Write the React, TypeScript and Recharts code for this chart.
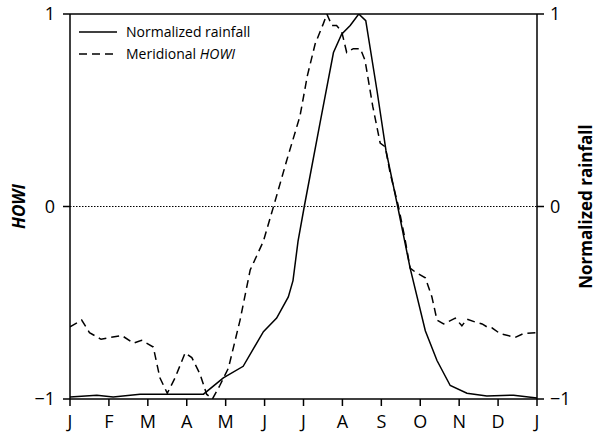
import React from 'react';
import { LineChart, Line, XAxis, YAxis, ReferenceLine, Legend } from 'recharts';

const monthTicks = [0, 1, 2, 3, 4, 5, 6, 7, 8, 9, 10, 11, 12];
const monthLabels = ['J', 'F', 'M', 'A', 'M', 'J', 'J', 'A', 'S', 'O', 'N', 'D', 'J'];
const yTicks = [-1, 0, 1];

const rainfallMonths = [0, 0.69, 1.11, 1.8, 3.43, 3.94, 4.45, 4.97, 5.31, 5.61, 5.73, 5.86, 6.02, 6.43, 6.77, 6.98, 7.2, 7.42, 7.6, 7.89, 8.12, 8.42, 8.74, 9.13, 9.43, 9.77, 10.2, 10.71, 11.4, 12];
const rainfallValues = [-0.99, -0.98, -0.99, -0.975, -0.975, -0.89, -0.83, -0.65, -0.58, -0.47, -0.385, -0.18, 0.0, 0.44, 0.8, 0.895, 0.94, 1.0, 0.965, 0.6, 0.29, 0.0, -0.32, -0.645, -0.8, -0.93, -0.97, -0.985, -0.98, -0.995];

const howiMonths = [0, 0.3, 0.5, 0.8, 1.03, 1.33, 1.63, 1.84, 2.14, 2.31, 2.5, 2.7, 2.96, 3.13, 3.34, 3.51, 3.66, 3.85, 4.07, 4.37, 4.63, 4.97, 5.23, 5.57, 5.91, 6.1, 6.3, 6.51, 6.6, 6.73, 6.85, 6.98, 7.11, 7.28, 7.46, 7.58, 7.78, 7.97, 8.1, 8.23, 8.44, 8.6, 8.74, 8.87, 9.13, 9.3, 9.43, 9.6, 9.9, 10.07, 10.2, 10.41, 10.59, 10.71, 10.84, 11.05, 11.44, 11.65, 12];
const howiValues = [-0.625, -0.59, -0.655, -0.69, -0.68, -0.67, -0.71, -0.695, -0.73, -0.89, -0.97, -0.89, -0.76, -0.785, -0.87, -0.975, -1.0, -0.93, -0.84, -0.59, -0.33, -0.18, 0.0, 0.24, 0.47, 0.68, 0.845, 0.95, 1.0, 0.94, 0.94, 0.91, 0.8, 0.82, 0.82, 0.76, 0.52, 0.33, 0.31, 0.17, 0.0, -0.16, -0.32, -0.34, -0.37, -0.47, -0.59, -0.61, -0.58, -0.62, -0.585, -0.6, -0.61, -0.625, -0.63, -0.66, -0.68, -0.66, -0.655];

const rainfallData = rainfallMonths.map((m, i) => ({ m, v: rainfallValues[i] }));
const howiData = howiMonths.map((m, i) => ({ m, v: howiValues[i] }));

const FONT = '"Open Sans", sans-serif';

const fmtY = (v: number) => (v < 0 ? '\u2212' + Math.abs(v) : String(v));
const fmtX = (v: number) => monthLabels[v] ?? '';

const LeftLabel = (props: any) => {
  const vb = props.viewBox || {};
  const cx = vb.x + 18;
  const cy = vb.y + vb.height / 2;
  return (
    <text x={cx} y={cy} transform={`rotate(-90, ${cx}, ${cy})`} textAnchor="middle" dominantBaseline="central"
      fontFamily={FONT} fontSize={17} fontWeight="bold" fontStyle="italic" fill="#000">HOWI</text>
  );
};

const RightLabel = (props: any) => {
  const vb = props.viewBox || {};
  const cx = vb.x + 48;
  const cy = vb.y + vb.height / 2;
  return (
    <text x={cx} y={cy} transform={`rotate(-90, ${cx}, ${cy})`} textAnchor="middle" dominantBaseline="central"
      fontFamily={FONT} fontSize={17} fontWeight="bold" fill="#000">Normalized rainfall</text>
  );
};

const LegendContent = () => (
  <div style={{ fontFamily: FONT, fontSize: 14, color: '#000', lineHeight: '22px' }}>
    <div style={{ display: 'flex', alignItems: 'center' }}>
      <svg width={40} height={22}><line x1={1} y1={11} x2={39} y2={11} stroke="#000" strokeWidth={1.6} /></svg>
      <span style={{ marginLeft: 8 }}>Normalized rainfall</span>
    </div>
    <div style={{ display: 'flex', alignItems: 'center' }}>
      <svg width={40} height={22}><line x1={1} y1={11} x2={39} y2={11} stroke="#000" strokeWidth={1.6} strokeDasharray="8 5" /></svg>
      <span style={{ marginLeft: 8 }}>Meridional <i>HOWI</i></span>
    </div>
  </div>
);

export default function App() {
  return (
    <div style={{ position: 'absolute', left: 0, top: 0, width: 601, height: 435, background: '#fff' }}>
      <LineChart width={601} height={435} margin={{ top: 14, right: 0, bottom: 0, left: 0 }}>
        <XAxis dataKey="m" type="number" domain={[0, 12]} ticks={monthTicks} tickFormatter={fmtX}
          height={36} stroke="#000" strokeWidth={1.5} tickSize={7} tickMargin={9}
          tick={{ fill: '#000', fontSize: 18, fontFamily: FONT }} allowDataOverflow />
        <YAxis yAxisId="left" domain={[-1, 1]} ticks={yTicks} tickFormatter={fmtY} width={70}
          stroke="#000" strokeWidth={1.5} tickSize={7} tickMargin={8}
          tick={{ fill: '#000', fontSize: 18, fontFamily: FONT }} label={<LeftLabel />} allowDataOverflow />
        <YAxis yAxisId="right" orientation="right" domain={[-1, 1]} ticks={yTicks} tickFormatter={fmtY} width={64}
          stroke="#000" strokeWidth={1.5} tickSize={7} tickMargin={6}
          tick={{ fill: '#000', fontSize: 18, fontFamily: FONT }} label={<RightLabel />} allowDataOverflow />
        <ReferenceLine yAxisId="left" y={1} stroke="#000" strokeWidth={1.5} />
        <ReferenceLine yAxisId="left" y={0} stroke="#000" strokeWidth={1} strokeDasharray="1.5 1.5" />
        <Line yAxisId="left" data={howiData} dataKey="v" type="linear" stroke="#000" strokeWidth={1.5}
          strokeDasharray="8 5" dot={false} isAnimationActive={false} />
        <Line yAxisId="left" data={rainfallData} dataKey="v" type="linear" stroke="#000" strokeWidth={1.5}
          dot={false} isAnimationActive={false} />
        <Legend layout="vertical" align="center" verticalAlign="middle" content={<LegendContent />}
          wrapperStyle={{ position: 'absolute', left: 78, top: 21, width: 'auto', height: 'auto' }} />
      </LineChart>
    </div>
  );
}
